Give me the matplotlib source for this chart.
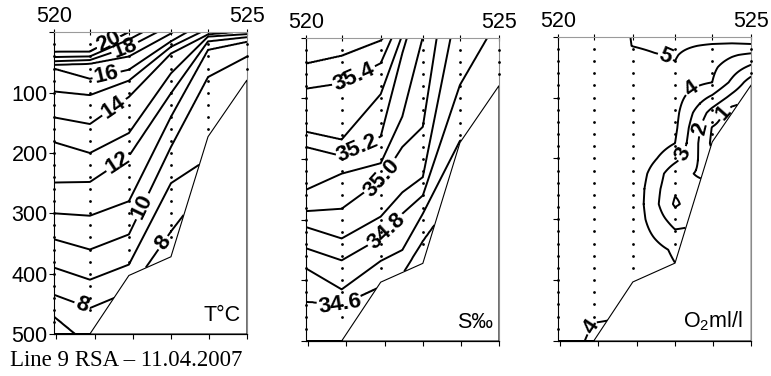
import numpy as np
import matplotlib
matplotlib.use("Agg")
import matplotlib.pyplot as plt
from matplotlib.patches import Polygon

plt.rcParams["font.family"] = ["Liberation Sans", "DejaVu Sans"]
plt.rcParams["mathtext.fontset"] = "custom"
plt.rcParams["mathtext.rm"] = "Liberation Sans"
plt.rcParams["mathtext.it"] = "Liberation Sans:italic"

# ---- stations of the section (520 -> 0, 525 -> 5) ----
station_x = [0.0, 0.93, 1.94, 3.03, 3.99, 5.0]
bottom_depth = [560, 507, 403, 372, 173, 79]
deepest_sample = [480, 460, 380, 340, 160, 60]
sample_step = 20

# ---- temperature: depth (m) of every isotherm at each station ----
temp_levels = [20, 19, 18, 17, 16, 15, 14, 13, 12, 11, 10, 9, 8, 7]
temp_knots_x = [0.0, 0.93, 1.94, 3.03, 3.99, 5.0]
temp_depth_st1 = [33, 41, 48, 54, 60, 98, 141, 182, 249, 300, 343, 390, 435, 471]
temp_depth_st2 = [32, 40, 46, 52, 77, 104, 152, 200, 248, 304, 360, 410, 457, 520]
temp_depth_st3 = [0, 12, 24, 40, 62, 80, 107, 167, 205, 280, 335, 385, 430, 520]
temp_depth_st4 = [-40, -25, -12, 2, 15, 24, 35, 68, 101, 140, 190, 250, 330, 450]
temp_depth_st5 = [-100, -80, -60, -40, -20, -6, 3.6, 7, 15, 29, 74, 210, 250, 400]
temp_depth_st6 = [-120, -100, -80, -60, -40, -20, -2, 3, 8, 15.6, 40, 150, 200, 300]

# ---- salinity: depth (m) of every isohaline ----
sal_levels = [35.5, 35.4, 35.3, 35.2, 35.1, 35.0, 34.9, 34.8, 34.7, 34.6]
sal_knots_x = [0.0, 0.93, 1.94, 2.5, 3.03, 3.99, 5.0]
sal_depth_st1 = [43, 84, 155, 180, 251, 286, 312, 347, 380, 435]
sal_depth_st2 = [30, 75, 168, 195, 224, 282, 331, 367, 415, 440]
sal_depth_st3 = [5, 42, 93, 163, 207, 235, 295, 330, 368, 410]
sal_depth_mid = [-30, -40, -5, 25, 130, 180, 255, 290, 350, 390]
sal_depth_st4 = [-24, -97, -106, -87, -2, 147, 230, 260, 290, 335]
sal_depth_st5 = [-300, -300, -300, -300, -300, -245, -77, 78, 170, 250]
sal_depth_st6 = [-300, -300, -300, -300, -300, -300, -300, -33, 150, 300]

# ---- dissolved oxygen (ml/l) profiles ----
o2_levels = [1, 2, 3, 4, 5]
o2_knots_x = [0.0, 0.93, 1.94, 2.5, 3.03, 3.99, 4.5, 5.0]
o2_depth = [0, 15, 30, 50, 75, 100, 125, 150, 175, 200, 225, 250, 275, 300, 325, 350, 400, 450, 500, 550]
o2_st1 = [4.6, 4.6, 4.6, 4.6, 4.6, 4.6, 4.6, 4.6, 4.6, 4.6, 4.6, 4.6, 4.6, 4.6, 4.6, 4.6, 4.55, 4.5, 4.45, 4.3]
o2_st2 = [4.7, 4.7, 4.68, 4.65, 4.65, 4.65, 4.65, 4.65, 4.65, 4.65, 4.65, 4.65, 4.65, 4.65, 4.6, 4.55, 4.4, 4.1, 3.85, 3.7]
o2_st3 = [5.02, 5.01, 4.85, 4.8, 4.75, 4.75, 4.75, 4.75, 4.8, 4.85, 4.8, 4.75, 4.7, 4.7, 4.7, 4.7, 4.6, 4.0, 3.9, 3.8]
o2_mid = [5.2, 5.1, 4.97, 4.85, 4.8, 4.75, 4.7, 4.65, 4.5, 4.1, 3.6, 3.35, 3.3, 3.5, 3.9, 4.3, 4.5, 4.5, 4.5, 4.5]
o2_st4 = [5.3, 5.15, 5.05, 4.95, 4.5, 4.4, 4.3, 4.2, 4.0, 3.3, 2.3, 2.15, 1.85, 2.6, 3.2, 3.85, 4.2, 4.2, 4.2, 4.2]
o2_st5 = [5.4, 4.9, 4.5, 4.2, 4.0, 2.8, 1.6, 0.95, 0.8, 1.2, 1.7, 2.3, 3.0, 3.0, 3.3, 3.5, 3.8, 4.0, 4.0, 4.0]
o2_shelf = [5.4, 4.85, 4.1, 3.5, 2.8, 1.7, 0.5, 0.5, 0.6, 0.8, 1.0, 1.2, 1.4, 1.6, 1.8, 2.0, 2.4, 2.8, 3.0, 3.0]
o2_st6 = [5.4, 4.9, 3.8, 2.8, 1.5, 0.8, 0.5, 0.5, 0.5, 0.6, 0.8, 1.0, 1.2, 1.4, 1.6, 1.8, 2.2, 2.6, 3.0, 3.0]

# contour label anchors (section x, depth)
temp_label_pos = [(1.37, 13), (1.84, 26), (1.36, 70), (1.58, 126), (1.67, 217),
                  (2.31, 289), (2.79, 347), (0.73, 452)]
sal_label_pos = [(1.28, 70), (1.36, 185), (1.93, 229), (2.05, 317), (0.89, 435)]
o2_label_pos = [(2.77, 35), (3.5, 90), (3.29, 194), (3.63, 150), (4.24, 120), (0.83, 476)]

bottom_tick_x = [0.06, 1.05, 2.05, 3.03, 4.02, 5.0]
depth_ticks = [0, 100, 200, 300, 400, 500]

# ---- grids ----
xg = np.linspace(0, 5, 501)
zg = np.linspace(0, 520, 521)
bottom_g = np.interp(xg, station_x, bottom_depth)
below_bottom = zg[:, None] > bottom_g[None, :]


def isoline_field(knots_x, rows, levels):
    d = np.array(rows, float)
    step = levels[0] - levels[1]
    lev = np.concatenate([[levels[0] + step], levels, [levels[-1] - step]])
    d = np.column_stack([np.full(len(knots_x), -500.0), d, np.full(len(knots_x), 800.0)])
    dg = np.array([np.interp(xg, knots_x, d[:, j]) for j in range(d.shape[1])])
    dg = np.maximum.accumulate(dg, axis=0)
    f = np.empty((zg.size, xg.size))
    for i in range(xg.size):
        f[:, i] = np.interp(zg, dg[:, i], lev)
    return np.ma.masked_where(below_bottom, f)


def profile_field(knots_x, depths, rows):
    p = np.array(rows, float)
    pz = np.array([np.interp(zg, depths, p[k]) for k in range(len(knots_x))])
    f = np.array([np.interp(xg, knots_x, pz[:, i]) for i in range(zg.size)])
    return np.ma.masked_where(below_bottom, f)


temp_field = isoline_field(temp_knots_x,
                           [temp_depth_st1, temp_depth_st2, temp_depth_st3,
                            temp_depth_st4, temp_depth_st5, temp_depth_st6],
                           temp_levels)
sal_field = isoline_field(sal_knots_x,
                          [sal_depth_st1, sal_depth_st2, sal_depth_st3, sal_depth_mid,
                           sal_depth_st4, sal_depth_st5, sal_depth_st6],
                          sal_levels)
o2_field = profile_field(o2_knots_x, o2_depth,
                         [o2_st1, o2_st2, o2_st3, o2_mid, o2_st4, o2_st5, o2_shelf, o2_st6])

W, H = 771, 376
fig = plt.figure(figsize=(W / 100, H / 100), dpi=100)

panel_px = [(54, 247, 32.3, 334), (305.7, 499, 37.7, 341), (557.7, 751.3, 36.7, 341)]
axes = []
for (x0, x1, y0, y1) in panel_px:
    axes.append(fig.add_axes([x0 / W, 1 - y1 / H, (x1 - x0) / W, (y1 - y0) / H]))


def style_axis(ax, depth_labels):
    ax.set_xlim(0, 5)
    ax.set_ylim(500, 0)
    ax.xaxis.tick_top()
    ax.set_xticks(station_x)
    ax.set_xticklabels(["520", "", "", "", "", "525"])
    ax.tick_params(axis="x", which="both", direction="inout", length=5, width=0.8,
                   labelsize=15.5, pad=1.0, colors="k")
    ax.set_yticks(depth_ticks)
    if depth_labels:
        ax.set_yticklabels([""] + [str(d) for d in depth_ticks[1:]])
    else:
        ax.set_yticklabels([])
    ax.tick_params(axis="y", direction="out", length=3.5, width=0.8, labelsize=15.5, pad=1)
    sec = ax.secondary_xaxis("bottom")
    sec.set_xticks(bottom_tick_x)
    sec.set_xticklabels([])
    sec.tick_params(direction="out", length=3.5, width=0.8)
    sec.spines["bottom"].set_linewidth(0.8)
    ax.spines["left"].set_linewidth(0.8)
    ax.spines["bottom"].set_linewidth(0.8)
    ax.spines["top"].set_color("#9a9a9a")
    ax.spines["top"].set_linewidth(0.8)
    ax.spines["right"].set_color("#8a8a8a")
    ax.spines["right"].set_linewidth(0.8)


def draw_bottom(ax):
    xs = list(station_x) + [5.0, 0.0]
    zs = [min(b, 500) for b in bottom_depth] + [500, 500]
    ax.add_patch(Polygon(np.column_stack([xs, zs]), closed=True, facecolor="white",
                         edgecolor="k", linewidth=0.8, zorder=3))


def draw_samples(ax):
    for sx, deep in zip(station_x, deepest_sample):
        d = np.arange(sample_step, deep + 1, sample_step)
        ax.scatter(np.full(d.size, sx), d, s=4, c="k", marker="o", linewidths=0,
                   zorder=4, clip_on=False)


def draw_contours(ax, field, levels, label_pos, fmt):
    cs = ax.contour(xg, zg, field, levels=sorted(levels), colors="k",
                    linewidths=1.4, zorder=2)
    texts = ax.clabel(cs, manual=label_pos, inline=True, fmt=fmt, fontsize=16,
                      inline_spacing=2)
    for t in texts:
        t.set_fontweight("bold")
    return cs


for ax, lab in zip(axes, [True, False, False]):
    style_axis(ax, lab)

draw_contours(axes[0], temp_field, temp_levels, temp_label_pos, "%d")
draw_contours(axes[1], sal_field, sal_levels, sal_label_pos, "%.1f")
draw_contours(axes[2], o2_field, o2_levels, o2_label_pos, "%d")

for ax in axes:
    draw_bottom(ax)
    draw_samples(ax)

axes[0].text(0.965, 0.06, "T°C", transform=axes[0].transAxes, ha="right",
             va="center", fontsize=15.5, zorder=6)
axes[1].text(0.968, 0.06, "S‰", transform=axes[1].transAxes, ha="right",
             va="center", fontsize=15.5, zorder=6)
axes[2].text(0.957, 0.065, r"O$_\mathregular{2}$ml/l", transform=axes[2].transAxes,
             ha="right", va="center", fontsize=15.5, zorder=6)

fig.text(10 / W, 1 - 361 / H, "Line 9 RSA – 11.04.2007", ha="left", va="center",
         fontsize=16.5, family="Liberation Serif")

fig.savefig("out.png", dpi=100)
